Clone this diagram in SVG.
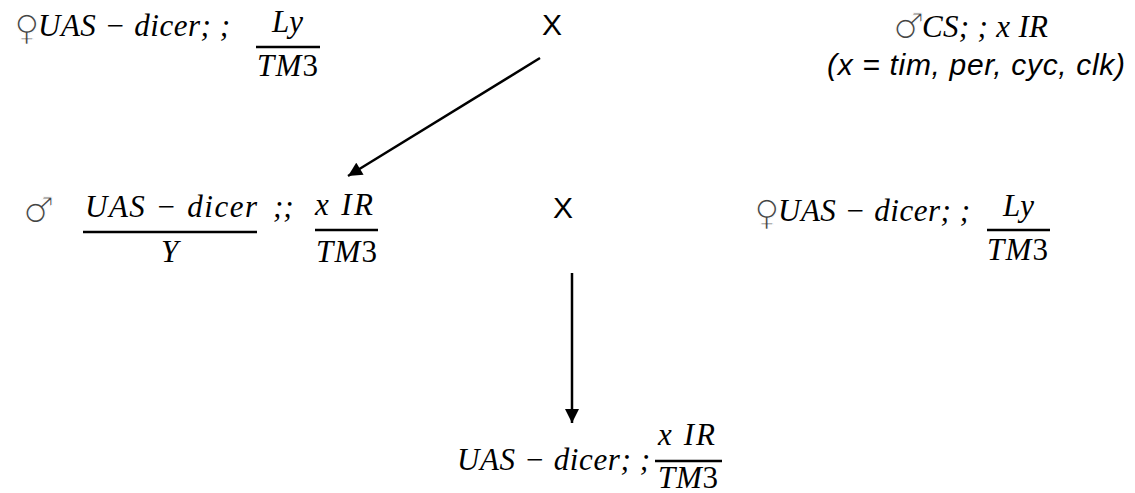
<svg xmlns="http://www.w3.org/2000/svg" width="1135" height="493" viewBox="0 0 1135 493">
<style>
.m{font-family:"Liberation Serif","Times New Roman",serif;font-style:italic;font-size:31px;fill:#000}
.up{font-style:normal}
.sym{font-family:"DejaVu Sans",sans-serif;font-size:35px;fill:#444;stroke:#fff;stroke-width:1.3}
.cross{font-family:"Liberation Sans",Arial,sans-serif;font-size:30px;fill:#000}
.note{font-family:"Liberation Sans",Arial,sans-serif;font-style:italic;font-size:30px;fill:#000}
.bar{stroke:#000;stroke-width:2.5}
.conn{stroke:#000;stroke-width:2.5;fill:none}
</style>
<defs>
<marker id="ah" viewBox="0 0 10 10" refX="10" refY="5" markerWidth="16" markerHeight="14" markerUnits="userSpaceOnUse" orient="auto">
<path d="M0,0 L10,5 L0,10 z" fill="#000"/>
</marker>
</defs>
<rect width="1135" height="493" fill="#fff"/>

<g id="female-parent-1">
<text class="sym" x="14" y="40">♀</text>
<text class="m" x="38" y="36" textLength="192" lengthAdjust="spacing">UAS − dicer; ;</text>
<text class="m" x="272" y="32" textLength="31" lengthAdjust="spacing">Ly</text>
<line class="bar" x1="256" y1="47" x2="320" y2="47"/>
<text class="m" x="257" y="76" textLength="61" lengthAdjust="spacing">TM<tspan class="up">3</tspan></text>
</g>

<g id="cross-1">
<text class="cross" x="542" y="35">X</text>
</g>

<g id="male-parent-1">
<text class="sym" x="893" y="38">♂</text>
<text class="m" x="922" y="37" textLength="126" lengthAdjust="spacing">CS; ; x IR</text>
<text class="note" x="827" y="75" textLength="298" lengthAdjust="spacing">(x = tim, per, cyc, clk)</text>
</g>

<g id="male-f1">
<text class="sym" x="23" y="222">♂</text>
<text class="m" x="85" y="217" textLength="172" lengthAdjust="spacing">UAS − dicer</text>
<line class="bar" x1="83" y1="232" x2="257" y2="232"/>
<text class="m" x="161" y="262">Y</text>
<text class="m" x="273" y="217">;;</text>
<text class="m" x="315" y="215" textLength="58" lengthAdjust="spacing">x IR</text>
<line class="bar" x1="315" y1="230" x2="378" y2="230"/>
<text class="m" x="316" y="262" textLength="61" lengthAdjust="spacing">TM<tspan class="up">3</tspan></text>
</g>

<g id="cross-2">
<text class="cross" x="553" y="218">X</text>
</g>

<g id="female-parent-2">
<text class="sym" x="754" y="225">♀</text>
<text class="m" x="778" y="221" textLength="192" lengthAdjust="spacing">UAS − dicer; ;</text>
<text class="m" x="1003" y="216" textLength="31" lengthAdjust="spacing">Ly</text>
<line class="bar" x1="987" y1="230" x2="1050" y2="230"/>
<text class="m" x="987" y="260" textLength="61" lengthAdjust="spacing">TM<tspan class="up">3</tspan></text>
</g>

<g id="offspring">
<text class="m" x="457" y="470" textLength="193" lengthAdjust="spacing">UAS − dicer; ;</text>
<text class="m" x="658" y="445" textLength="57" lengthAdjust="spacing">x IR</text>
<line class="bar" x1="655" y1="461" x2="722" y2="461"/>
<text class="m" x="658" y="488" textLength="60" lengthAdjust="spacing">TM<tspan class="up">3</tspan></text>
</g>

<g id="connectors">
<line class="conn" x1="540" y1="58" x2="348" y2="176" marker-end="url(#ah)"/>
<line class="conn" x1="572" y1="273" x2="572" y2="423" marker-end="url(#ah)"/>
</g>
</svg>
